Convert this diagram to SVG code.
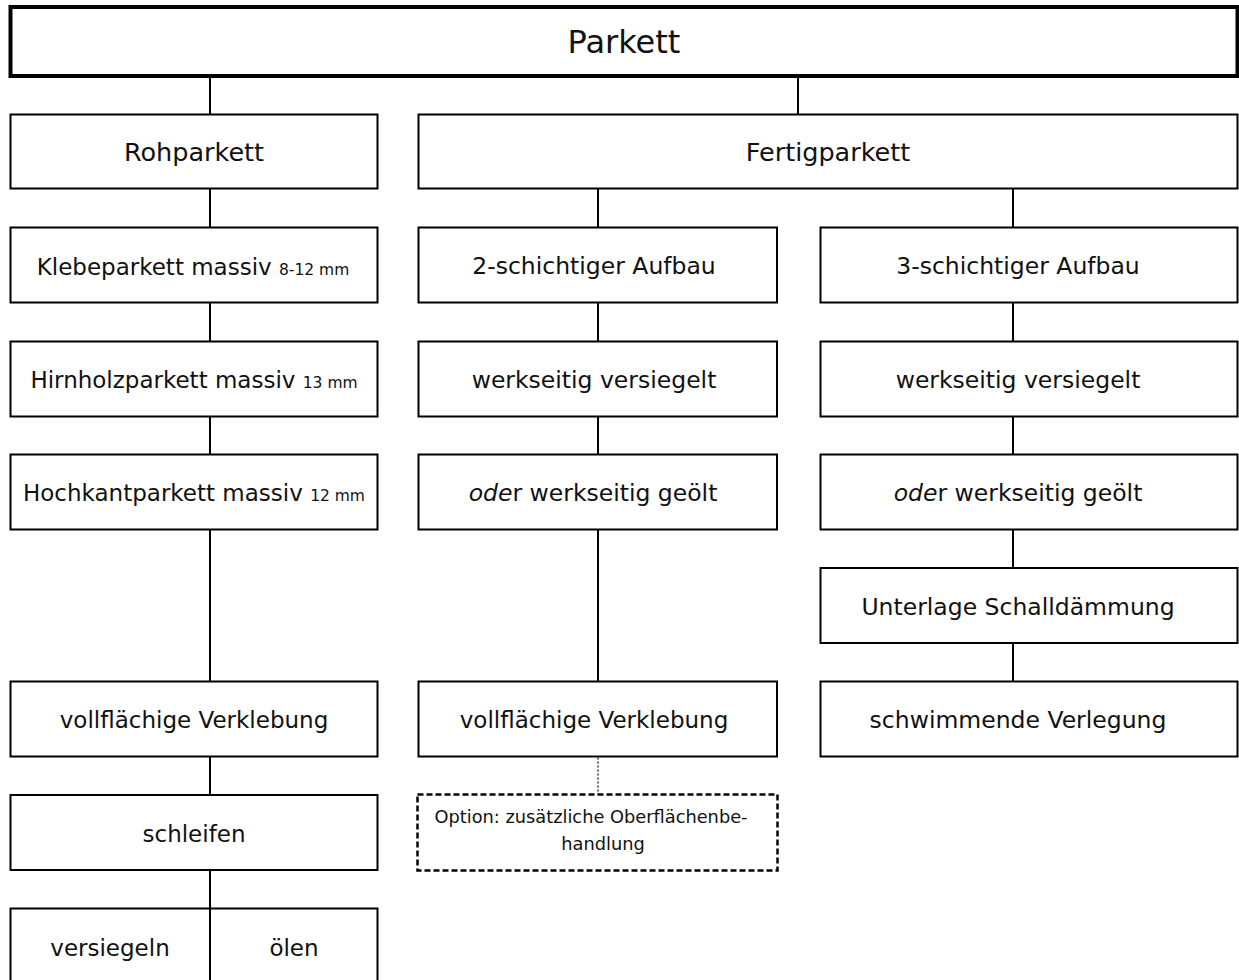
<svg xmlns="http://www.w3.org/2000/svg" width="1239" height="980" viewBox="0 0 1239 980">
<style>
  .box { fill: #fff; stroke: #000; stroke-width: 2; }
  .top { fill: #fff; stroke: #000; stroke-width: 4; }
  .dash { fill: #fff; stroke: #000; stroke-width: 2.5; stroke-dasharray: 6 3; }
  .con { stroke: #000; stroke-width: 2; fill: none; }
  .dot { stroke: #333; stroke-width: 1.5; stroke-dasharray: 2 2; fill: none; }
  text { font-family: "DejaVu Sans", Verdana, sans-serif; fill: #111; text-anchor: middle; }
  .t1 { font-size: 32px; }
  .t2 { font-size: 25.5px; }
  .t3 { font-size: 23px; }
  .tb { font-size: 23.5px; }
  .sm { font-size: 15.5px; }
  .t4 { font-size: 17.8px; }
</style>
<rect width="1239" height="980" fill="#fff"/>
<g id="connectors">
  <line class="con" x1="210" y1="76" x2="210" y2="114.5"/>
  <line class="con" x1="798" y1="76" x2="798" y2="114.5"/>
  <line class="con" x1="210" y1="188.5" x2="210" y2="227.5"/>
  <line class="con" x1="210" y1="302.5" x2="210" y2="341.5"/>
  <line class="con" x1="210" y1="416.5" x2="210" y2="454.5"/>
  <line class="con" x1="210" y1="529.5" x2="210" y2="681.5"/>
  <line class="con" x1="210" y1="756.5" x2="210" y2="795"/>
  <line class="con" x1="210" y1="870" x2="210" y2="908.5"/>
  <line class="con" x1="598" y1="188.5" x2="598" y2="227.5"/>
  <line class="con" x1="598" y1="302.5" x2="598" y2="341.5"/>
  <line class="con" x1="598" y1="416.5" x2="598" y2="454.5"/>
  <line class="con" x1="598" y1="529.5" x2="598" y2="681.5"/>
  <line class="dot" x1="598" y1="757.5" x2="598" y2="794"/>
  <line class="con" x1="1013" y1="188.5" x2="1013" y2="227.5"/>
  <line class="con" x1="1013" y1="302.5" x2="1013" y2="341.5"/>
  <line class="con" x1="1013" y1="416.5" x2="1013" y2="454.5"/>
  <line class="con" x1="1013" y1="529.5" x2="1013" y2="568"/>
  <line class="con" x1="1013" y1="643" x2="1013" y2="681.5"/>
</g>
<g id="parkett">
  <rect class="top" x="10.5" y="7" width="1227" height="69"/>
  <text class="t1" x="624" y="53">Parkett</text>
</g>
<g id="rohparkett">
  <rect class="box" x="10.5" y="114.5" width="367" height="74"/>
  <text class="t2" x="194" y="161">Rohparkett</text>
</g>
<g id="fertigparkett">
  <rect class="box" x="418.5" y="114.5" width="819" height="74"/>
  <text class="t2" x="828" y="161">Fertigparkett</text>
</g>
<g id="klebeparkett">
  <rect class="box" x="10.5" y="227.5" width="367" height="75"/>
  <text class="t3" x="193" y="275">Klebeparkett massiv <tspan class="sm">8-12 mm</tspan></text>
</g>
<g id="hirnholzparkett">
  <rect class="box" x="10.5" y="341.5" width="367" height="75"/>
  <text class="t3" x="194" y="388">Hirnholzparkett massiv <tspan class="sm">13 mm</tspan></text>
</g>
<g id="hochkantparkett">
  <rect class="box" x="10.5" y="454.5" width="367" height="75"/>
  <text class="t3" x="194" y="501">Hochkantparkett massiv <tspan class="sm">12 mm</tspan></text>
</g>
<g id="vollflaechig1">
  <rect class="box" x="10.5" y="681.5" width="367" height="75"/>
  <text class="t3" x="194" y="728">vollflächige Verklebung</text>
</g>
<g id="schleifen">
  <rect class="box" x="10.5" y="795" width="367" height="75"/>
  <text class="t3" x="194" y="842">schleifen</text>
</g>
<g id="versiegeln">
  <rect class="box" x="10.5" y="908.5" width="199.5" height="80"/>
  <text class="t3" x="110" y="956">versiegeln</text>
</g>
<g id="oelen">
  <rect class="box" x="210" y="908.5" width="167.5" height="80"/>
  <text class="t3" x="294" y="956">ölen</text>
</g>
<g id="zweischichtig">
  <rect class="box" x="418.5" y="227.5" width="358.5" height="75"/>
  <text class="tb" x="594" y="274">2-schichtiger Aufbau</text>
</g>
<g id="versiegelt2">
  <rect class="box" x="418.5" y="341.5" width="358.5" height="75"/>
  <text class="tb" x="594" y="388">werkseitig versiegelt</text>
</g>
<g id="geoelt2">
  <rect class="box" x="418.5" y="454.5" width="358.5" height="75"/>
  <text class="tb" x="593" y="501"><tspan font-style="italic">ode</tspan>r werkseitig geölt</text>
</g>
<g id="vollflaechig2">
  <rect class="box" x="418.5" y="681.5" width="358.5" height="75"/>
  <text class="t3" x="594" y="728">vollflächige Verklebung</text>
</g>
<g id="option">
  <rect class="dash" x="417.5" y="794.5" width="360" height="76"/>
  <text class="t4" x="591" y="823">Option: zusätzliche Oberflächenbe-</text>
  <text class="t4" x="603" y="850">handlung</text>
</g>
<g id="dreischichtig">
  <rect class="box" x="820.5" y="227.5" width="417" height="75"/>
  <text class="tb" x="1018" y="274">3-schichtiger Aufbau</text>
</g>
<g id="versiegelt3">
  <rect class="box" x="820.5" y="341.5" width="417" height="75"/>
  <text class="tb" x="1018" y="388">werkseitig versiegelt</text>
</g>
<g id="geoelt3">
  <rect class="box" x="820.5" y="454.5" width="417" height="75"/>
  <text class="tb" x="1018" y="501"><tspan font-style="italic">ode</tspan>r werkseitig geölt</text>
</g>
<g id="unterlage">
  <rect class="box" x="820.5" y="568" width="417" height="75"/>
  <text class="tb" x="1018" y="615">Unterlage Schalldämmung</text>
</g>
<g id="schwimmend">
  <rect class="box" x="820.5" y="681.5" width="417" height="75"/>
  <text class="tb" x="1018" y="728">schwimmende Verlegung</text>
</g>
</svg>
